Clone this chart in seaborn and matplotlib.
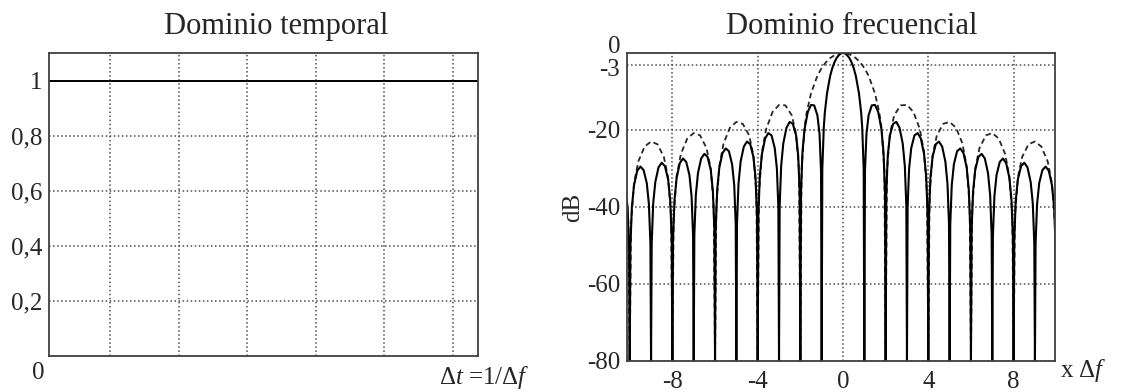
import numpy as np
import pandas as pd
import matplotlib
matplotlib.use("Agg")
import matplotlib.pyplot as plt
import matplotlib.transforms as mtransforms
import seaborn as sns

'''
Data read off the reference
'''

# time domain: rectangular window of amplitude 1 over the whole record
time_pts = [0.0, 1.0]
amplitude = [1.0, 1.0]
time_grid = [0.142, 0.302, 0.462, 0.622, 0.782, 0.942]
amp_ticks = [0.2, 0.4, 0.6, 0.8, 1.0]
amp_labels = ["0,2", "0,4", "0,6", "0,8", "1"]

# frequency domain (x Δf), positive half; the spectrum is symmetric about 0
# solid curve: nulls at every integer
freq_solid_pos = [0, 0.1, 0.2, 0.3, 0.4, 0.5, 0.6, 0.75, 0.85, 0.9, 0.97, 1.0,
                  1.03, 1.1, 1.2, 1.35, 1.5, 1.65, 1.8, 1.9, 1.97, 2.0,
                  2.03, 2.1, 2.2, 2.35, 2.5, 2.65, 2.8, 2.9, 2.97, 3.0,
                  3.03, 3.1, 3.2, 3.35, 3.5, 3.65, 3.8, 3.9, 3.97, 4.0,
                  4.03, 4.1, 4.2, 4.35, 4.5, 4.65, 4.8, 4.9, 4.97, 5.0,
                  5.03, 5.1, 5.2, 5.35, 5.5, 5.65, 5.8, 5.9, 5.97, 6.0,
                  6.03, 6.1, 6.2, 6.35, 6.5, 6.65, 6.8, 6.9, 6.97, 7.0,
                  7.03, 7.1, 7.2, 7.35, 7.5, 7.65, 7.8, 7.9, 7.97, 8.0,
                  8.03, 8.1, 8.2, 8.35, 8.5, 8.65, 8.8, 8.9, 8.97, 9.0,
                  9.03, 9.1, 9.2, 9.35, 9.5, 9.65, 9.8, 9.9, 9.97, 10.0,
                  10.03, 10.1, 10.2]
db_solid_pos = [0, -0.1, -0.6, -1.3, -2.4, -3.9, -5.9, -10.5, -15.4, -19.2, -30.2, -80,
                -30.7, -21.0, -16.2, -13.6, -13.5, -15.3, -19.7, -25.7, -36.4, -80,
                -36.6, -26.6, -21.4, -18.4, -17.9, -19.4, -23.5, -29.4, -39.9, -80,
                -40.1, -30.0, -24.7, -21.4, -20.8, -22.2, -26.2, -32.0, -42.5, -80,
                -42.6, -32.4, -27.0, -23.7, -23.0, -24.3, -28.2, -34.0, -44.4, -80,
                -44.5, -34.3, -28.9, -25.5, -24.8, -26.0, -29.8, -35.6, -46.0, -80,
                -46.1, -35.9, -30.4, -27.0, -26.2, -27.4, -31.2, -36.9, -47.3, -80,
                -47.4, -37.2, -31.7, -28.3, -27.4, -28.6, -32.4, -38.1, -48.5, -80,
                -48.6, -38.3, -32.8, -29.4, -28.5, -29.7, -33.5, -39.1, -49.5, -80,
                -49.6, -39.3, -33.8, -30.4, -29.5, -30.6, -34.4, -40.1, -50.5, -80,
                -50.5, -40.2, -34.7]

# dashed curve: twice as wide lobes, nulls at even integers
freq_dash_pos = [0, 0.2, 0.4, 0.6, 0.8, 1.0, 1.2, 1.5, 1.7, 1.8, 1.94, 2.0,
                 2.06, 2.2, 2.4, 2.7, 3.0, 3.3, 3.6, 3.8, 3.94, 4.0,
                 4.06, 4.2, 4.4, 4.7, 5.0, 5.3, 5.6, 5.8, 5.94, 6.0,
                 6.06, 6.2, 6.4, 6.7, 7.0, 7.3, 7.6, 7.8, 7.94, 8.0,
                 8.06, 8.2, 8.4, 8.7, 9.0, 9.3, 9.6, 9.8, 9.94, 10.0,
                 10.06, 10.2, 10.4]
db_dash_pos = [0, -0.1, -0.6, -1.3, -2.4, -3.9, -5.9, -10.5, -15.4, -19.2, -30.2, -80,
               -30.7, -21.0, -16.2, -13.6, -13.5, -15.3, -19.7, -25.7, -36.4, -80,
               -36.6, -26.6, -21.4, -18.4, -17.9, -19.4, -23.5, -29.4, -39.9, -80,
               -40.1, -30.0, -24.7, -21.4, -20.8, -22.2, -26.2, -32.0, -42.5, -80,
               -42.6, -32.4, -27.0, -23.7, -23.0, -24.3, -28.2, -34.0, -44.4, -80,
               -44.5, -34.3, -28.9]

freq_ticks = [-8, -4, 0, 4, 8]
freq_labels = ["-8", "-4", "0", "4", "8"]
db_ticks = [0, -3, -20, -40, -60, -80]
db_labels = ["0", "-3", "-20", "-40", "-60", "-80"]


def mirror(x, y):
    x = np.asarray(x, float)
    y = np.asarray(y, float)
    return (np.concatenate([-x[::-1], x[1:]]),
            np.concatenate([y[::-1], y[1:]]))


fs, ds = mirror(freq_solid_pos, db_solid_pos)
fd, dd = mirror(freq_dash_pos, db_dash_pos)
df_solid = pd.DataFrame({"freq": fs, "dB": ds})
df_dash = pd.DataFrame({"freq": fd, "dB": dd})
df_time = pd.DataFrame({"t": time_pts, "amp": amplitude})

'''
Plot
'''

sns.set_style("white")
plt.rcParams['font.family'] = ['Liberation Serif', 'DejaVu Serif']
plt.rcParams['mathtext.fontset'] = 'custom'
plt.rcParams['mathtext.rm'] = 'Liberation Serif'
plt.rcParams['mathtext.it'] = 'Liberation Serif:italic'
plt.rcParams['axes.unicode_minus'] = False

fig = plt.figure(figsize=(11.27, 3.92), dpi=100)
ax1 = fig.add_axes([0.0435, 0.0918, 0.3806, 0.773])
ax2 = fig.add_axes([0.5563, 0.0791, 0.3798, 0.7857])

grid_kw = dict(color="0.3", linestyle=":", linewidth=1.1)

# left: time domain
sns.lineplot(data=df_time, x="t", y="amp", ax=ax1, color="black",
             linewidth=1.4, estimator=None)
ax1.set_xlim(0, 1)
ax1.set_ylim(0, 1.1)
ax1.set_xticks(time_grid)
ax1.set_xticklabels([])
ax1.set_yticks(amp_ticks)
ax1.set_yticklabels(amp_labels)
ax1.grid(True, **grid_kw)
ax1.set_xlabel("")
ax1.set_ylabel("")
ax1.set_title("Dominio temporal", fontsize=22, pad=14, x=0.529)
ax1.text(-0.026, -0.055, "0", transform=ax1.transAxes, ha="center",
         va="center", fontsize=18)
ax1.text(1.016, -0.07, r"$\Delta t$ =1/$\Delta f$", transform=ax1.transAxes,
         ha="center", va="center", fontsize=18)

# right: frequency domain
sns.lineplot(data=df_dash, x="freq", y="dB", ax=ax2, color="0.15",
             linewidth=1.3, linestyle=(0, (3, 2)), estimator=None, sort=False)
sns.lineplot(data=df_solid, x="freq", y="dB", ax=ax2, color="black",
             linewidth=1.5, estimator=None, sort=False)
ax2.set_xlim(-10.13, 9.94)
ax2.set_ylim(-80, 0)
ax2.set_xticks(freq_ticks)
ax2.set_xticklabels(freq_labels)
ax2.set_yticks(db_ticks)
ax2.set_yticklabels(db_labels)
ax2.grid(True, **grid_kw)
ax2.set_xlabel("")
ax2.set_ylabel("dB", fontsize=18, labelpad=2)
ax2.set_title("Dominio frecuencial", fontsize=22, pad=14, x=0.526)
ax2.text(1.012, -0.03, r"x $\Delta f$", transform=ax2.transAxes,
         ha="left", va="center", fontsize=18)

for ax in (ax1, ax2):
    for s in ax.spines.values():
        s.set_visible(True)
        s.set_color("0.25")
        s.set_linewidth(1.3)
    ax.tick_params(length=0, labelsize=18, pad=5)
    ax.set_axisbelow(True)
ax2.tick_params(axis="x", pad=7)

# "0" sits above the top edge and "-3" just under it, so they do not collide
ylabels = ax2.get_yticklabels()
ylabels[0].set_transform(ylabels[0].get_transform() +
                         mtransforms.ScaledTranslation(0, 6 / 72, fig.dpi_scale_trans))
ylabels[1].set_transform(ylabels[1].get_transform() +
                         mtransforms.ScaledTranslation(0, -2 / 72, fig.dpi_scale_trans))

fig.savefig("out.png", dpi=100)
